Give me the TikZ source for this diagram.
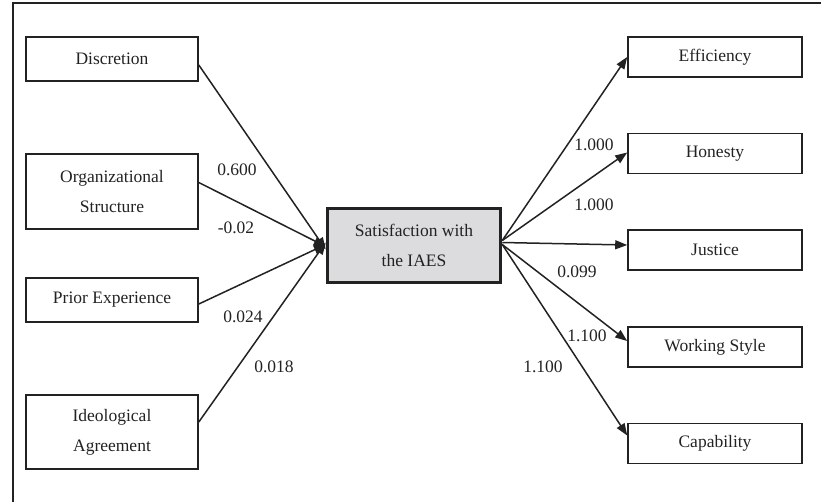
\documentclass[tikz,border=0pt]{standalone}
\usepackage{fontspec}
\setmainfont{Liberation Serif}
\usetikzlibrary{arrows.meta}
\definecolor{ink}{HTML}{222222}
\definecolor{satfill}{HTML}{DCDCDE}
\begin{document}
\begin{tikzpicture}[x=1pt,y=-1pt,
  every node/.style={text=ink,font=\fontsize{17.5}{30}\selectfont},
  box/.style={draw=ink,line width=1.6pt,inner sep=0pt,align=center,minimum width=172pt},
  rbox/.style={box,minimum width=174pt,minimum height=40pt},
  satbox/.style={draw=ink,fill=satfill,line width=3.5pt,inner sep=0pt,align=center,minimum width=173pt,minimum height=74pt},
  conn/.style={draw=ink,line width=1.5pt},
  arr/.style={conn,-{Triangle[length=12pt,width=9pt]}},
  lbl/.style={inner sep=0pt}]
\useasboundingbox (0,0) rectangle (821,501);
\begin{scope}
\clip (0,0) rectangle (821,501);
\draw[draw=ink,line width=1.5pt] (13,3) rectangle (830,510);
\end{scope}
% left boxes
\node[box,minimum height=44pt] (disc) at (112,59) {Discretion};
\node[box,minimum height=75pt] (org) at (112,191.5) {Organizational\\Structure};
\node[box,minimum height=44pt] (prior) at (112,300) {Prior Experience};
\node[box,minimum height=74pt] (ideo) at (112,432) {Ideological\\Agreement};
% centre
\node[satbox] (sat) at (414,245.5) {Satisfaction with\\the IAES};
% right boxes
\node[rbox] (eff) at (715,57) {Efficiency};
\node[rbox] (hon) at (715,153.5) {Honesty};
\node[rbox] (jus) at (715,250) {Justice};
\node[rbox] (work) at (715,347) {Working Style};
\node[rbox] (cap) at (715,443.5) {Capability};
% left connectors
\draw[arr] ([yshift=-6pt]disc.east) -- ([yshift=-4pt]sat.west);
\draw[arr] ([yshift=9pt]org.east) -- ([yshift=-1pt]sat.west);
\draw[arr] ([yshift=-4pt]prior.east) -- ([yshift=1pt]sat.west);
\draw[arr] ([yshift=10pt]ideo.east) -- ([yshift=3pt]sat.west);
% right connectors
\draw[arr] ([yshift=5pt]sat.east) -- (eff.west);
\draw[arr] ([yshift=5pt]sat.east) -- ([yshift=1pt]hon.west);
\draw[arr] ([yshift=3pt]sat.east) -- ([yshift=5pt]jus.west);
\draw[arr] ([yshift=1pt]sat.east) -- ([yshift=6pt]work.west);
\draw[arr] ([yshift=1pt]sat.east) -- ([yshift=8pt]cap.west);
% labels
\node[lbl] (l1) at (237,170) {0.600};
\node[lbl] (l2) at (236,228) {-0.02};
\node[lbl] (l3) at (243,317) {0.024};
\node[lbl] (l4) at (274,367) {0.018};
\node[lbl] (r1) at (594,145) {1.000};
\node[lbl] (r2) at (594,205) {1.000};
\node[lbl] (r3) at (577,272) {0.099};
\node[lbl] (r4) at (587,336) {1.100};
\node[lbl] (r5) at (543,367) {1.100};
\end{tikzpicture}
\end{document}
